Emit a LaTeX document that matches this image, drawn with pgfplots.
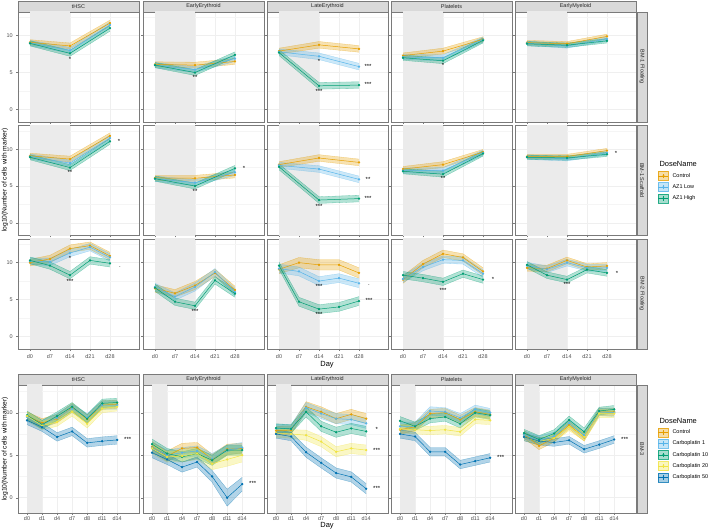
\documentclass[border=0pt]{standalone}
\usepackage{pgfplots}
\pgfplotsset{compat=1.18}
\usepgfplotslibrary{fillbetween}
\usepackage{pgfplotstable}
\usepackage{fontspec}
\setmainfont{Liberation Sans}
\tikzset{fill between/on layer=main}

\definecolor{cC}{HTML}{E69F00}
\definecolor{cL}{HTML}{56B4E9}
\definecolor{cH}{HTML}{009E73}
\definecolor{cY}{HTML}{F0E442}
\definecolor{cB}{HTML}{0072B2}
\definecolor{bgshade}{HTML}{EBEBEB}
\definecolor{stripg}{HTML}{D9D9D9}
\definecolor{bord}{HTML}{7A7A7A}
\definecolor{txtg}{HTML}{4D4D4D}

% ---------- top figure data (x index: 0=d0,1=d7,2=d14,3=d21,4=d28)
\pgfplotstableread{
x c ce l le h he
0 9.1 0.35 9.0 0.35 8.95 0.35
2 8.6 0.4 8.0 0.4 7.6 0.4
4 11.7 0.4 11.45 0.4 11.0 0.4
}\Taa
\pgfplotstableread{
x c ce l le h he
0 6.1 0.35 6.0 0.35 6.0 0.35
2 6.0 0.4 5.4 0.4 5.0 0.4
4 6.5 0.4 6.9 0.4 7.4 0.4
}\Tab
\pgfplotstableread{
x c ce l le h he
0 7.9 0.4 7.8 0.4 7.7 0.4
2 8.75 0.45 7.2 0.45 3.2 0.45
4 8.2 0.45 5.8 0.45 3.3 0.45
}\Tac
\pgfplotstableread{
x c ce l le h he
0 7.3 0.35 7.1 0.35 7.0 0.35
2 7.9 0.4 7.0 0.4 6.6 0.4
4 9.5 0.35 9.45 0.35 9.35 0.35
}\Tad
\pgfplotstableread{
x c ce l le h he
0 9.05 0.3 8.95 0.3 8.9 0.3
2 8.9 0.3 8.6 0.3 8.7 0.3
4 9.9 0.3 9.55 0.3 9.3 0.3
}\Tae
\pgfplotstableread{
x c ce l le h he
0 9.1 0.35 9.0 0.35 8.9 0.35
2 8.65 0.4 8.1 0.4 7.5 0.4
4 11.8 0.4 11.5 0.4 11.05 0.4
}\Tba
\pgfplotstableread{
x c ce l le h he
0 6.1 0.35 6.0 0.35 6.0 0.35
2 6.05 0.4 5.45 0.4 5.0 0.4
4 6.5 0.4 6.85 0.4 7.4 0.4
}\Tbb
\pgfplotstableread{
x c ce l le h he
0 7.9 0.4 7.8 0.4 7.6 0.4
2 8.8 0.45 7.3 0.45 3.1 0.45
4 8.2 0.45 5.9 0.45 3.3 0.45
}\Tbc
\pgfplotstableread{
x c ce l le h he
0 7.3 0.35 7.1 0.35 7.0 0.35
2 7.9 0.4 7.1 0.4 6.6 0.4
4 9.6 0.35 9.5 0.35 9.4 0.35
}\Tbd
\pgfplotstableread{
x c ce l le h he
0 9.0 0.3 8.9 0.3 8.9 0.3
2 9.0 0.3 8.7 0.3 8.8 0.3
4 9.8 0.3 9.5 0.3 9.3 0.3
}\Tbe
\pgfplotstableread{
x c ce l le h he
0 10.0 0.45 10.2 0.45 10.3 0.45
1 10.5 0.5 10.1 0.5 9.6 0.5
2 11.9 0.5 11.3 0.5 8.3 0.5
3 12.3 0.5 12.1 0.5 10.3 0.5
4 10.9 0.5 10.7 0.5 9.9 0.5
}\Tca
\pgfplotstableread{
x c ce l le h he
0 6.5 0.5 6.7 0.5 6.6 0.5
1 5.85 0.5 5.4 0.5 4.7 0.5
2 6.9 0.55 6.7 0.55 4.15 0.5
3 8.6 0.5 8.7 0.5 7.6 0.5
4 6.3 0.5 6.0 0.5 5.8 0.5
}\Tcb
\pgfplotstableread{
x c ce l le h he
0 9.1 0.6 9.2 0.6 9.6 0.5
1 10.0 0.7 8.8 0.6 4.7 0.6
2 9.7 0.7 7.5 0.6 3.7 0.6
3 9.7 0.7 7.9 0.6 4.0 0.6
4 8.6 0.7 7.2 0.6 4.8 0.6
}\Tcc
\pgfplotstableread{
x c ce l le h he
0 7.7 0.5 7.8 0.5 8.3 0.5
1 9.8 0.5 9.4 0.5 7.9 0.5
2 11.2 0.5 10.4 0.5 7.4 0.5
3 10.7 0.5 10.3 0.5 8.5 0.5
4 8.8 0.5 8.5 0.5 7.7 0.5
}\Tcd
\pgfplotstableread{
x c ce l le h he
0 9.3 0.45 9.6 0.45 9.7 0.45
1 9.2 0.45 9.1 0.45 8.3 0.45
2 10.3 0.45 10.0 0.45 7.7 0.45
3 9.4 0.45 9.3 0.45 9.05 0.45
4 9.55 0.45 9.3 0.45 8.6 0.45
}\Tce
% ---------- bottom figure data (x index: d0,d1,d4,d7,d8,d11,d14)
\pgfplotstableread{
x c ce a ae b be d de f fe
0 9.6 0.5 9.5 0.5 9.7 0.5 9.6 0.5 9.1 0.5
1 8.8 0.5 8.6 0.5 8.6 0.5 8.5 0.5 8.3 0.5
2 9.3 0.5 9.4 0.5 9.6 0.5 8.9 0.5 7.15 0.5
3 10.6 0.5 10.5 0.5 10.7 0.5 10.1 0.5 7.8 0.5
4 9.25 0.5 9.4 0.5 9.3 0.5 8.7 0.5 6.45 0.5
5 10.9 0.5 10.9 0.5 11.1 0.5 10.5 0.5 6.65 0.5
6 11.0 0.5 10.9 0.5 11.2 0.5 10.7 0.5 6.8 0.5
}\Ba
\pgfplotstableread{
x c ce a ae b be d de f fe
0 6.0 0.6 5.9 0.6 6.3 0.6 5.8 0.6 5.3 0.6
1 4.9 0.6 5.0 0.6 5.2 0.6 4.8 0.6 4.5 0.6
2 5.8 0.6 5.3 0.6 4.8 0.6 4.9 0.7 3.6 0.6
3 5.9 0.6 5.5 0.6 5.2 0.6 5.2 0.7 4.2 0.6
4 4.5 0.6 4.6 0.6 4.4 0.6 4.0 0.7 2.5 0.7
5 5.7 0.6 5.6 0.6 5.6 0.6 4.5 0.8 0.0 1.0
6 5.8 0.6 5.9 0.6 5.6 0.6 5.0 0.8 1.6 0.8
}\Bb
\pgfplotstableread{
x c ce a ae b be d de f fe
0 7.9 0.5 8.15 0.5 8.2 0.5 7.6 0.5 7.5 0.5
1 7.95 0.5 8.1 0.5 8.1 0.5 7.5 0.5 7.2 0.5
2 10.7 0.6 10.6 0.6 10.1 0.6 7.35 0.6 5.35 0.6
3 10.1 0.6 9.9 0.6 8.4 0.6 6.6 0.6 4.1 0.6
4 9.3 0.6 9.3 0.6 7.7 0.6 5.4 0.6 2.9 0.6
5 9.8 0.6 9.2 0.6 8.15 0.6 5.8 0.6 2.45 0.6
6 9.3 0.6 8.75 0.6 7.8 0.6 5.6 0.6 1.05 0.6
}\Bc
\pgfplotstableread{
x c ce a ae b be d de f fe
0 8.0 0.5 8.4 0.5 9.05 0.5 8.1 0.5 7.5 0.5
1 8.35 0.5 8.4 0.5 8.4 0.5 8.0 0.5 7.2 0.5
2 9.9 0.5 10.2 0.5 9.3 0.5 7.9 0.5 5.4 0.5
3 10.0 0.5 10.1 0.5 9.5 0.5 8.0 0.5 5.4 0.5
4 9.2 0.5 9.4 0.5 8.7 0.5 7.75 0.5 3.9 0.5
5 10.1 0.5 10.4 0.5 10.0 0.5 9.2 0.5 4.3 0.5
6 9.8 0.5 10.0 0.5 9.7 0.5 9.1 0.5 4.7 0.5
}\Bd
\pgfplotstableread{
x c ce a ae b be d de f fe
0 7.45 0.45 7.4 0.45 7.6 0.45 7.15 0.45 7.15 0.45
1 6.1 0.45 6.8 0.45 6.85 0.45 6.6 0.45 6.65 0.45
2 7.0 0.45 7.25 0.45 7.55 0.45 7.0 0.45 6.5 0.45
3 8.55 0.45 8.75 0.45 9.15 0.45 8.35 0.45 6.75 0.45
4 7.1 0.45 7.35 0.45 7.75 0.45 7.15 0.45 5.7 0.45
5 10.1 0.45 10.1 0.45 10.2 0.45 9.9 0.45 6.25 0.45
6 10.1 0.45 10.0 0.45 10.4 0.45 9.9 0.45 6.85 0.45
}\Be

\newcommand{\rib}[4]{%
  \addplot[draw=#4, draw opacity=0.5, line width=0.3pt, name path=U#2, forget plot] table[x=x, y expr=\thisrow{#2}+\thisrow{#3}] {#1};
  \addplot[draw=#4, draw opacity=0.5, line width=0.3pt, name path=L#2, forget plot] table[x=x, y expr=\thisrow{#2}-\thisrow{#3}] {#1};
  \addplot[fill=#4, fill opacity=0.3, draw=none, forget plot] fill between[of=U#2 and L#2];
}
\newcommand{\mline}[3]{%
  \addplot[color=#3, line width=0.5pt, mark=*, mark size=0.9pt, mark options={solid}, forget plot] table[x=x, y=#2] {#1};
}
\newcommand{\topthree}[1]{%
  \fill[bgshade] (axis cs:0,-5) rectangle (axis cs:2,20);
  \rib{#1}{c}{ce}{cC}\rib{#1}{l}{le}{cL}\rib{#1}{h}{he}{cH}%
  \mline{#1}{c}{cC}\mline{#1}{l}{cL}\mline{#1}{h}{cH}%
}
\newcommand{\botfive}[1]{%
  \fill[bgshade] (axis cs:0,-5) rectangle (axis cs:1,20);
  \rib{#1}{c}{ce}{cC}\rib{#1}{a}{ae}{cL}\rib{#1}{b}{be}{cH}\rib{#1}{d}{de}{cY}\rib{#1}{f}{fe}{cB}%
  \mline{#1}{c}{cC}\mline{#1}{a}{cL}\mline{#1}{b}{cH}\mline{#1}{d}{cY}\mline{#1}{f}{cB}%
}
\newcommand{\st}[3]{\node[font=\fontsize{6}{6}\selectfont, inner sep=0pt] at (axis cs:#1,#2) {#3};}
\newcommand{\keyimg}[1]{\addlegendimage{legend image code/.code={%
  \filldraw[fill=#1, fill opacity=0.35, draw=#1, draw opacity=0.8, line width=0.4pt] (0bp,-4.5bp) rectangle (10bp,4.5bp);
  \draw[#1, line width=0.5pt] (0bp,0bp) -- (10bp,0bp);
  \draw[#1, line width=0.4pt] (5bp,-2.2bp) -- (5bp,2.2bp);
  \fill[#1] (5bp,0bp) circle (0.9bp);}}}

\pgfplotsset{
  panel/.style={scale only axis, width=121bp, anchor=north west, clip=true,
    axis line style={draw=bord, line width=0.5pt},
    grid=both, major grid style={draw=bgshade!80!white, line width=0.45pt},
    minor grid style={draw=bgshade!50!white, line width=0.25pt},
    ytick={0,5,10}, minor ytick={2.5,7.5,12.5},
    tick align=outside, major tick length=1.8bp, minor tick length=0pt,
    tick style={draw=bord, line width=0.4pt},
    ticklabel style={font=\fontsize{5.5}{6}\selectfont, text=txtg},
    /pgf/number format/assume math mode=true,
    xticklabels={}, yticklabels={},
    xtick pos=bottom, ytick pos=left,
  },
  toppanel/.style={panel, height=110bp, xmin=-0.6, xmax=5.45, ymin=-1.7, ymax=13.2, xtick={0,...,4}},
  botpanel/.style={panel, height=128bp, xmin=-0.6, xmax=7.45, ymin=-1.8, ymax=13.26, xtick={0,...,6},
     xticklabels={d0,d1,d4,d7,d8,d11,d14}, xticklabel style={yshift=1.6bp}},
  toplab/.style={xticklabels={d0,d7,d14,d21,d28}},
  leg/.style={legend style={at={(1.182,#1)}, anchor=north west, draw=none, fill=none, inner sep=0pt,
     font=\fontsize{5.5}{6.5}\selectfont, row sep=1.8bp, cells={anchor=west},
     /tikz/every odd column/.append style={column sep=1.8bp}}, legend cell align=left},
}

\newcommand{\hstrip}[3]{\filldraw[fill=stripg, draw=bord, line width=0.5pt] (#1bp,#2bp) rectangle ++(121bp,11bp);
  \path (#1bp,#2bp) ++(60.5bp,5.5bp) node[font=\fontsize{5.5}{6}\selectfont, text=black!85] {#3};}
\newcommand{\vstrip}[3]{\filldraw[fill=stripg, draw=bord, line width=0.5pt] (637bp,#1bp) rectangle (647bp,#2bp);
  \path (642bp,#1bp) ++(0bp,{(#2-#1)/2*1bp}) node[rotate=-90, font=\fontsize{5.5}{6}\selectfont, text=black!85] {#3};}

\begin{document}
\begin{tikzpicture}

% ===== top figure strips
\hstrip{18}{518}{tHSC}\hstrip{143}{518}{EarlyErythroid}\hstrip{267}{518}{LateErythroid}
\hstrip{391}{518}{Platelets}\hstrip{515}{518}{EarlyMyeloid}
\vstrip{408}{518}{BM-1 Floating}
\vstrip{294.5}{404.5}{BM-1 Scaffold}
\vstrip{181}{291}{BM-2 Floating}

% ----- row 1
\begin{axis}[toppanel, at={(18bp,518bp)}, yticklabels={0,5,10}]
\topthree{\Taa}\st{2}{6.75}{*}
\end{axis}
\begin{axis}[toppanel, at={(143bp,518bp)}]
\topthree{\Tab}\st{2}{4.3}{**}
\end{axis}
\begin{axis}[toppanel, at={(267bp,518bp)}]
\topthree{\Tac}\st{2}{6.5}{*}\st{2}{2.4}{***}\st{4.45}{5.85}{***}\st{4.45}{3.35}{***}
\end{axis}
\begin{axis}[toppanel, at={(391bp,518bp)}]
\topthree{\Tad}\st{2}{6.0}{*}
\end{axis}
\begin{axis}[toppanel, at={(515bp,518bp)}]
\topthree{\Tae}
\end{axis}
% ----- row 2
\begin{axis}[toppanel, at={(18bp,404.5bp)}, yticklabels={0,5,10}]
\topthree{\Tba}\st{2}{6.9}{**}\st{4.45}{11.0}{*}
\end{axis}
\begin{axis}[toppanel, at={(143bp,404.5bp)}]
\topthree{\Tbb}\st{2}{4.3}{**}\st{4.45}{7.45}{*}
\end{axis}
\begin{axis}[toppanel, at={(267bp,404.5bp)}]
\topthree{\Tbc}\st{2}{2.3}{***}\st{4.45}{5.9}{**}\st{4.45}{3.3}{***}
\end{axis}
\begin{axis}[toppanel, at={(391bp,404.5bp)}]
\topthree{\Tbd}\st{2}{6.0}{**}
\end{axis}
\begin{axis}[toppanel, at={(515bp,404.5bp)}, leg=0.586]
\topthree{\Tbe}\st{4.45}{9.35}{*}
\keyimg{cC}\addlegendentry{Control}
\keyimg{cL}\addlegendentry{AZ1 Low}
\keyimg{cH}\addlegendentry{AZ1 High}
\end{axis}
\node[anchor=west, font=\fontsize{7.5}{8}\selectfont] at (656bp,366bp) {DoseName};
% ----- row 3
\begin{axis}[toppanel, toplab, at={(18bp,291bp)}, yticklabels={0,5,10}]
\topthree{\Tca}\st{2}{10.6}{*}\st{2}{7.45}{***}\st{4.5}{9.35}{.}
\end{axis}
\begin{axis}[toppanel, toplab, at={(143bp,291bp)}]
\topthree{\Tcb}\st{2}{3.45}{***}
\end{axis}
\begin{axis}[toppanel, toplab, at={(267bp,291bp)}]
\topthree{\Tcc}\st{2}{6.8}{***}\st{2}{3.0}{***}\st{4.5}{6.9}{.}\st{4.5}{4.85}{***}
\end{axis}
\begin{axis}[toppanel, toplab, at={(391bp,291bp)}]
\topthree{\Tcd}\st{2}{6.2}{***}\st{4.5}{7.7}{*}
\end{axis}
\begin{axis}[toppanel, toplab, at={(515bp,291bp)}]
\topthree{\Tce}\st{2}{7.0}{***}\st{4.5}{8.6}{*}
\end{axis}
\node[rotate=90, font=\fontsize{6.7}{7}\selectfont] at (5bp,350bp) {log10(Number of cells with marker)};
\node[font=\fontsize{7.5}{8}\selectfont] at (327bp,165bp) {Day};

% ===== bottom figure
\hstrip{18}{145}{tHSC}\hstrip{143}{145}{EarlyErythroid}\hstrip{267}{145}{LateErythroid}
\hstrip{391}{145}{Platelets}\hstrip{515}{145}{EarlyMyeloid}
\vstrip{17}{145}{BM-3}
\begin{axis}[botpanel, at={(18bp,145bp)}, yticklabels={0,5,10}]
\botfive{\Ba}\st{6.7}{6.85}{***}
\end{axis}
\begin{axis}[botpanel, at={(143bp,145bp)}]
\botfive{\Bb}\st{6.7}{1.7}{***}
\end{axis}
\begin{axis}[botpanel, at={(267bp,145bp)}]
\botfive{\Bc}\st{6.7}{8.0}{*}\st{6.7}{5.6}{***}\st{6.7}{1.1}{***}
\end{axis}
\begin{axis}[botpanel, at={(391bp,145bp)}]
\botfive{\Bd}\st{6.7}{4.75}{***}
\end{axis}
\begin{axis}[botpanel, at={(515bp,145bp)}, leg=0.668]
\botfive{\Be}\st{6.7}{6.85}{***}
\keyimg{cC}\addlegendentry{Control}
\keyimg{cL}\addlegendentry{Carboplatin 1}
\keyimg{cH}\addlegendentry{Carboplatin 10}
\keyimg{cY}\addlegendentry{Carboplatin 20}
\keyimg{cB}\addlegendentry{Carboplatin 50}
\end{axis}
\node[anchor=west, font=\fontsize{7.5}{8}\selectfont] at (656bp,109bp) {DoseName};
\node[rotate=90, font=\fontsize{6.7}{7}\selectfont] at (5bp,81bp) {log10(Number of cells with marker)};
\node[font=\fontsize{7.5}{8}\selectfont] at (327bp,4bp) {Day};
\pgfresetboundingbox
\path[use as bounding box] (0bp,0bp) rectangle (708bp,530bp);
\end{tikzpicture}
\end{document}
